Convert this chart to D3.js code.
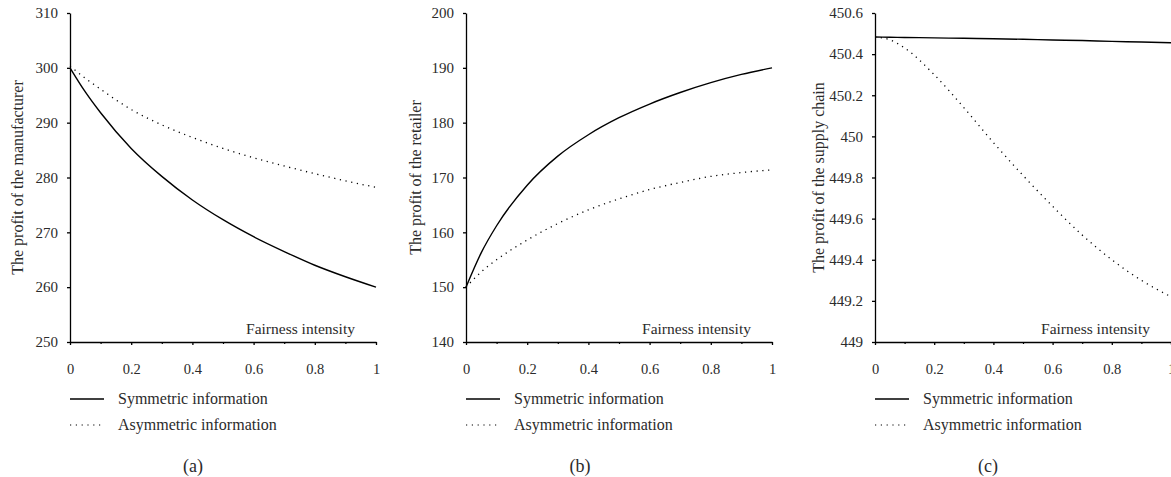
<!DOCTYPE html>
<html>
<head>
<meta charset="utf-8">
<script src="https://cdn.jsdelivr.net/npm/d3@7"></script>
<style>
  body { margin: 0; background: #fff; }
</style>
</head>
<body>
<div id="chart"></div>
<script>
// fairness intensity (x values, shared)
const lambda = [0, 0.05, 0.1, 0.2, 0.3, 0.4, 0.5, 0.6, 0.7, 0.8, 0.9, 1];

// (a) manufacturer profit
const manuSym  = [300, 295.6, 291.8, 285.3, 280.2, 275.9, 272.3, 269.2, 266.5, 264.0, 261.9, 260];
const manuAsym = [300.3, 298.1, 296.1, 292.4, 289.6, 287.3, 285.3, 283.6, 282.1, 280.7, 279.4, 278.2];

// (b) retailer profit
const retSym  = [150, 156.3, 161.2, 168.6, 173.9, 177.8, 180.9, 183.4, 185.5, 187.3, 188.8, 190];
const retAsym = [150, 152.8, 155, 158.6, 161.6, 164.1, 166.1, 167.8, 169.1, 170.2, 170.9, 171.4];

// (c) supply chain profit
const scSym  = [450.483, 450.482, 450.481, 450.479, 450.477, 450.475, 450.472, 450.469, 450.466, 450.462, 450.459, 450.455];
const scAsym = [450.483, 450.47, 450.43, 450.30, 450.14, 449.97, 449.81, 449.66, 449.52, 449.40, 449.30, 449.22];

// axis ticks
const xTicks = [0, 0.2, 0.4, 0.6, 0.8, 1];
const xMinor = [0.1, 0.3, 0.5, 0.7, 0.9];
const yTicksA = [250, 260, 270, 280, 290, 300, 310];
const yTicksB = [140, 150, 160, 170, 180, 190, 200];
const yTicksC = [449, 449.2, 449.4, 449.6, 449.8, 450, 450.2, 450.4, 450.6];

const yTitles = ["The profit of the manufacturer", "The profit of the retailer", "The profit of the supply chain"];
const captions = ["(a)", "(b)", "(c)"];
const legendLabels = ["Symmetric information", "Asymmetric information"];
const xTitle = "Fairness intensity";

const panels = [
  {left: 70,  width: 306, sym: manuSym, asym: manuAsym, yTicks: yTicksA, titleX: 17,  capX: 123},
  {left: 466, width: 306, sym: retSym,  asym: retAsym,  yTicks: yTicksB, titleX: 415, capX: 114},
  {left: 875, width: 296, sym: scSym,   asym: scAsym,   yTicks: yTicksC, titleX: 818, capX: 113}
];

const W = 1171, H = 477;
const plotTop = 13, plotBottom = 342;
const dotted = "1.2 4.6";
const FONT = "Liberation Serif";
const INK = "#2b2b2b";

const svg = d3.select("#chart").append("svg")
  .attr("width", W)
  .attr("height", H);

function label(sel, size) {
  return sel.style("font-family", FONT).style("font-size", size + "px").attr("fill", INK);
}

panels.forEach(function(p, i) {
  const g = svg.append("g").attr("transform", "translate(" + p.left + ",0)");

  let x = d3.scaleLinear().domain([0, 1]).range([0, p.width]);
  let y = d3.scaleLinear()
    .domain([p.yTicks[0], p.yTicks[p.yTicks.length - 1]])
    .range([plotBottom, plotTop]);

  // y axis
  const yAx = g.append("g")
    .call(d3.axisLeft(y).tickValues(p.yTicks).tickSize(3).tickSizeOuter(0).tickPadding(9)
      .tickFormat(d => String(+d.toFixed(1))));
  label(yAx.selectAll("text"), 15);
  yAx.selectAll("line, path").attr("stroke", "#000").attr("stroke-width", 1.3);

  // x axis, major and minor ticks
  const xAx = g.append("g").attr("transform", "translate(0," + plotBottom + ")")
    .call(d3.axisBottom(x).tickValues(xTicks).tickSize(3).tickSizeOuter(0).tickPadding(19)
      .tickFormat(d => String(d)));
  label(xAx.selectAll("text"), 14.5);
  xAx.selectAll("line, path").attr("stroke", "#000").attr("stroke-width", 1.3);

  g.append("g").attr("transform", "translate(0," + plotBottom + ")")
    .call(d3.axisBottom(x).tickValues(xMinor).tickSize(2).tickFormat(""))
    .call(a => a.select(".domain").remove())
    .selectAll("line").attr("stroke", "#000").attr("stroke-width", 1.2);

  // x title inside plot
  label(g.append("text"), 15.5)
    .attr("x", p.width - 21)
    .attr("y", plotBottom - 8)
    .attr("text-anchor", "end")
    .text(xTitle);

  // y title
  label(svg.append("text"), 16)
    .attr("transform", "translate(" + p.titleX + "," + ((plotTop + plotBottom) / 2) + ") rotate(-90)")
    .attr("text-anchor", "middle")
    .attr("dy", "0.35em")
    .text(yTitles[i]);

  const line = d3.line()
    .x((d, k) => x(lambda[k]))
    .y(d => y(d))
    .curve(d3.curveMonotoneX);

  g.append("path")
    .datum(p.asym)
    .attr("fill", "none")
    .attr("stroke", "#000")
    .attr("stroke-width", 1.3)
    .attr("stroke-dasharray", dotted)
    .attr("d", line);

  g.append("path")
    .datum(p.sym)
    .attr("fill", "none")
    .attr("stroke", "#000")
    .attr("stroke-width", 1.4)
    .attr("d", line);

  // legend
  const leg = g.append("g").attr("transform", "translate(0,399)");
  leg.append("line").attr("x1", 0).attr("x2", 34).attr("y1", 0).attr("y2", 0)
    .attr("stroke", "#000").attr("stroke-width", 1.4);
  label(leg.append("text"), 16).attr("x", 48).attr("y", 5).text(legendLabels[0]);
  leg.append("line").attr("x1", 0).attr("x2", 34).attr("y1", 26).attr("y2", 26)
    .attr("stroke", "#000").attr("stroke-width", 1.2).attr("stroke-dasharray", dotted);
  label(leg.append("text"), 16).attr("x", 48).attr("y", 31).text(legendLabels[1]);

  // caption
  label(g.append("text"), 18)
    .attr("x", p.capX)
    .attr("y", 472)
    .attr("text-anchor", "middle")
    .text(captions[i]);
});
</script>
</body>
</html>
